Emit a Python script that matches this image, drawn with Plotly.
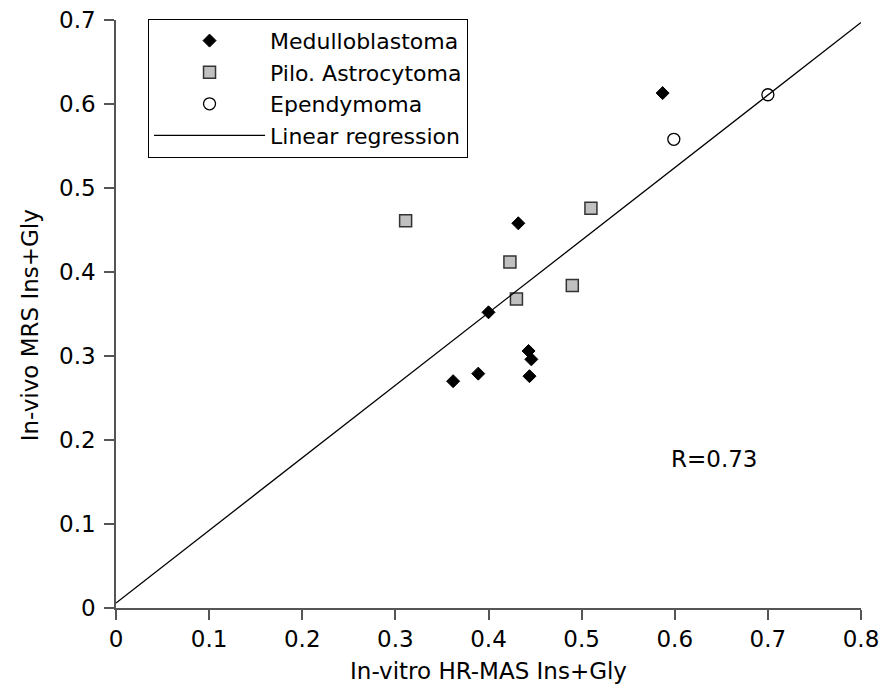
import plotly.graph_objects as go

# Data
med_x = [0.587, 0.432, 0.400, 0.443, 0.446, 0.389, 0.362, 0.444]
med_y = [0.613, 0.458, 0.352, 0.306, 0.296, 0.279, 0.270, 0.276]

pilo_x = [0.311, 0.510, 0.423, 0.430, 0.490]
pilo_y = [0.461, 0.476, 0.412, 0.368, 0.384]

epen_x = [0.599, 0.700]
epen_y = [0.558, 0.611]

reg_x = [0.0, 0.8]
reg_y = [0.006, 0.697]

x_ticks = [0, 0.1, 0.2, 0.3, 0.4, 0.5, 0.6, 0.7, 0.8]
x_tick_labels = ["0", "0.1", "0.2", "0.3", "0.4", "0.5", "0.6", "0.7", "0.8"]
y_ticks = [0, 0.1, 0.2, 0.3, 0.4, 0.5, 0.6, 0.7]
y_tick_labels = ["0", "0.1", "0.2", "0.3", "0.4", "0.5", "0.6", "0.7"]

FONT = "DejaVu Sans"

fig = go.Figure()
fig.add_trace(go.Scatter(
    x=med_x, y=med_y, mode="markers", name="Medulloblastoma",
    marker=dict(symbol="diamond", size=10, color="black",
                line=dict(color="black", width=1))))
fig.add_trace(go.Scatter(
    x=pilo_x, y=pilo_y, mode="markers", name="Pilo. Astrocytoma",
    marker=dict(symbol="square", size=12, color="#c0c0c0",
                line=dict(color="#333333", width=1.5))))
fig.add_trace(go.Scatter(
    x=epen_x, y=epen_y, mode="markers", name="Ependymoma",
    marker=dict(symbol="circle", size=12, color="white",
                line=dict(color="black", width=1.3))))
fig.add_trace(go.Scatter(
    x=reg_x, y=reg_y, mode="lines", name="Linear regression",
    line=dict(color="black", width=1.3)))

axis_common = dict(
    showline=True, linecolor="#555555", linewidth=1.5,
    ticks="outside", ticklen=10, tickwidth=1.5, tickcolor="#555555",
    showgrid=False, zeroline=False, automargin=False,
)

fig.update_layout(
    width=885, height=693,
    margin=dict(l=116, r=24, t=20, b=85),
    paper_bgcolor="white", plot_bgcolor="white",
    font=dict(family=FONT, color="black", size=20),
    xaxis=dict(range=[0, 0.8], tickvals=x_ticks, ticktext=x_tick_labels,
               tickfont=dict(size=23, family=FONT, color="black"),
               title=dict(text="In-vitro HR-MAS Ins+Gly",
                          font=dict(size=23, family=FONT, color="black"),
                          standoff=12),
               **axis_common),
    yaxis=dict(range=[0, 0.7], tickvals=y_ticks, ticktext=y_tick_labels,
               tickfont=dict(size=23, family=FONT, color="black"),
               ticklabelstandoff=4,
               **axis_common),
    legend=dict(x=0.043, y=1.002, xanchor="left", yanchor="top",
                bordercolor="black", borderwidth=1, bgcolor="white",
                font=dict(size=22, family=FONT, color="black"),
                itemwidth=111, tracegroupgap=0),
    annotations=[
        dict(x=0.642, y=0.177, xref="x", yref="y",
             text="R=0.73", showarrow=False,
             font=dict(size=23, family=FONT, color="black")),
        dict(x=-0.116, y=0.48, xref="paper", yref="paper",
             text="In-vivo MRS Ins+Gly", textangle=-90, showarrow=False,
             xanchor="center", yanchor="middle",
             font=dict(size=23, family=FONT, color="black")),
    ],
)

fig.write_html("out.html")
